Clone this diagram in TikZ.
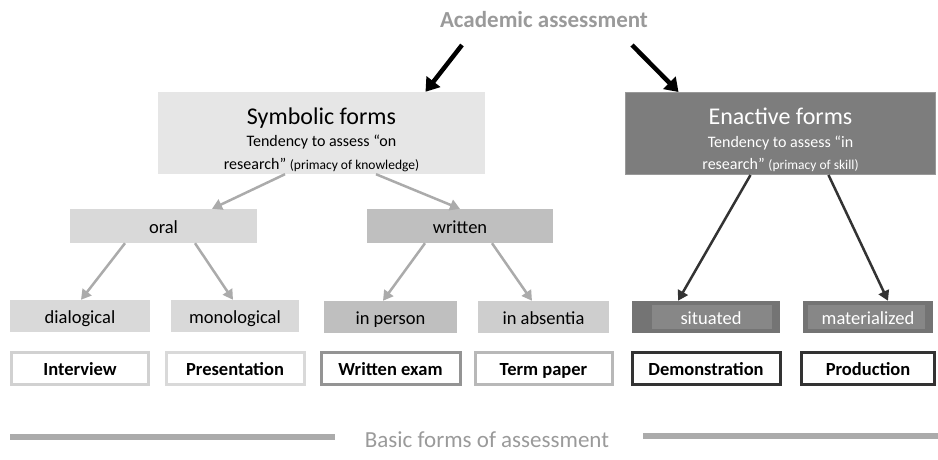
\documentclass[tikz,border=0pt]{standalone}
\usepackage{fontspec}
\setmainfont{Carlito}
\usetikzlibrary{arrows.meta, positioning, calc}
\definecolor{titlegray}{HTML}{9A9A9A}
\definecolor{symfill}{HTML}{E6E6E6}
\definecolor{oralfill}{HTML}{D9D9D9}
\definecolor{writfill}{HTML}{BFBFBF}
\definecolor{absfill}{HTML}{CECECE}
\definecolor{enactfill}{HTML}{7D7D7D}
\definecolor{darkfill}{HTML}{747474}
\definecolor{darkinner}{HTML}{878787}
\definecolor{arrowgray}{HTML}{ABABAB}
\definecolor{arrowdark}{HTML}{333333}
\newcommand{\headline}[1]{\rule{0pt}{30pt}{\fontsize{24}{22.5}\selectfont #1}}
\tikzset{
    formbox/.style={rectangle, inner sep=0pt, align=center, minimum height=82pt, font=\fontsize{16}{22.5}\selectfont},
    kindbox/.style={rectangle, inner sep=0pt, minimum height=34pt, text height=14pt, text depth=0pt, font=\fontsize{18.5}{22}\selectfont},
    subbox/.style={rectangle, inner sep=0pt, minimum height=32pt, text height=15pt, text depth=0pt, font=\fontsize{18.5}{22}\selectfont},
    darkbox/.style={subbox, fill=darkfill, text=white, path picture={\fill[darkinner] ([xshift=#1, yshift=-4pt]path picture bounding box.north west) rectangle ([xshift=-8pt, yshift=4pt]path picture bounding box.south east);}},
    taskbox/.style={rectangle, draw, line width=3pt, fill=white, inner sep=0pt, minimum height=32pt, text height=14pt, text depth=0pt, font=\bfseries\fontsize{18.5}{22}\selectfont},
    lightarrow/.style={draw=arrowgray, line width=2.5pt, -{Triangle[length=10pt, width=11pt]}},
    darkarrow/.style={draw=arrowdark, line width=2.5pt, -{Triangle[length=10pt, width=11pt]}},
    bigarrow/.style={draw=black, line width=4.5pt, -{Triangle[length=13pt, width=17pt]}},
    basebar/.style={draw=arrowgray, line width=6pt}
}
\begin{document}
\begin{tikzpicture}[x=1pt, y=-1pt]
    \useasboundingbox (0,0) rectangle (938,459);

    % Top
    \node (title) [font=\bfseries\fontsize{23}{26}\selectfont, text=titlegray] at (544,20) {Academic assessment};

    % Two main forms
    \node (symbolic) [formbox, fill=symfill, minimum width=327pt] at (321.5,133) {\headline{Symbolic forms}\\Tendency to assess “on\\research” {\fontsize{13.5}{22.5}\selectfont(primacy of knowledge)}};
    \node (enactive) [formbox, fill=enactfill, draw=black!40, line width=1pt, text=white, minimum width=310pt] at (780.5,133.5) {\headline{Enactive forms}\\Tendency to assess “in\\research” {\fontsize{13.5}{22.5}\selectfont(primacy of skill)}};

    % Oral / written
    \node (oral) [kindbox, fill=oralfill, minimum width=187pt] at (163.5,226) {oral};
    \node (written) [kindbox, fill=writfill, minimum width=186pt] at (460,226) {written};

    % Sub forms
    \node (dialogical) [subbox, fill=oralfill, minimum width=140pt] at (80,316) {dialogical};
    \node (monological) [subbox, fill=oralfill, minimum width=128pt] at (235,316) {monological};
    \node (inperson) [subbox, fill=writfill, minimum width=133pt] at (390.5,317) {in person};
    \node (inabsentia) [subbox, fill=absfill, minimum width=131pt] at (543.5,317) {in absentia};
    \node (situated) [darkbox=20pt, minimum width=148pt] at (706,317) {\hspace*{10pt}situated};
    \node (materialized) [darkbox=5pt, minimum width=130pt] at (868,317) {materialized};

    % Basic forms
    \node (interview) [taskbox, draw=black!18, minimum width=137pt, below=19pt of dialogical] {Interview};
    \node (presentation) [taskbox, draw=black!15, minimum width=138pt, below=19pt of monological] {Presentation};
    \node (writtenexam) [taskbox, draw=black!42, minimum width=139pt, below=18pt of inperson] {Written exam};
    \node (termpaper) [taskbox, draw=black!28, minimum width=137pt, below=18pt of inabsentia] {Term paper};
    \node (demonstration) [taskbox, draw=black!80, minimum width=148pt, below=18pt of situated] {Demonstration};
    \node (production) [taskbox, draw=black!80, minimum width=133pt, below=18pt of materialized] {Production};

    \node (basic) [font=\fontsize{23}{26}\selectfont, text=titlegray] at (487,440) {Basic forms of assessment};
    \draw [basebar] (10,437) -- (335,437);
    \draw [basebar] (643,436) -- (938,436);

    % Flows
    \draw [bigarrow] ([xshift=-82pt, yshift=-25pt]title.center) -- ([xshift=104pt]symbolic.north);
    \draw [bigarrow] ([xshift=88pt, yshift=-25pt]title.center) -- ([xshift=-102pt]enactive.north);

    \draw [lightarrow] ([xshift=-36.5pt]symbolic.south) -- ([xshift=48.5pt]oral.north);
    \draw [lightarrow] ([xshift=54.5pt]symbolic.south) -- (written.north);
    \draw [lightarrow] ([xshift=-38.5pt]oral.south) -- ([xshift=1pt]dialogical.north);
    \draw [lightarrow] ([xshift=31.5pt]oral.south) -- ([xshift=-2pt]monological.north);
    \draw [lightarrow] ([xshift=-35pt]written.south) -- ([xshift=-7.5pt]inperson.north);
    \draw [lightarrow] ([xshift=32pt]written.south) -- ([xshift=-11.5pt]inabsentia.north);

    \draw [darkarrow] ([xshift=-30pt]enactive.south) -- ([xshift=-28pt]situated.north);
    \draw [darkarrow] ([xshift=48pt]enactive.south) -- ([xshift=20pt]materialized.north);

\end{tikzpicture}
\end{document}
